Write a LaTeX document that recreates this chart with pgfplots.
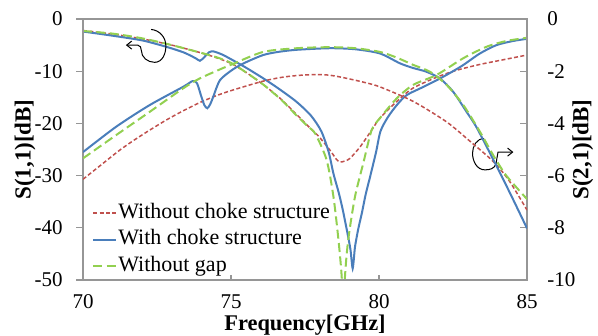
\documentclass[border=0pt]{standalone}
\usepackage{fontspec}
\setmainfont{Liberation Serif}
\usepackage{pgfplots}
\pgfplotsset{compat=1.18}
\usetikzlibrary{arrows.meta}
\definecolor{cred}{RGB}{192,80,77}
\definecolor{cblue}{RGB}{74,126,187}
\definecolor{cgreen}{RGB}{146,208,80}
\definecolor{cframe}{RGB}{150,150,150}
\begin{document}
\begin{tikzpicture}
\pgfplotsset{
  common/.style={scale only axis, width=222pt, height=130.5pt, xmin=70, xmax=85,
    axis line style={cframe, line width=0.6pt},
    /pgf/number format/assume math mode=true,
    tick label style={font=\fontsize{10.5}{12}\selectfont},
  },
  redl/.style={cred, line width=0.75pt, dash pattern=on 2pt off 1.2pt, smooth, tension=0.45},
  bluel/.style={cblue, line width=1pt, smooth, tension=0.45},
  greenl/.style={cgreen, line width=1pt, dash pattern=on 4.5pt off 2.2pt, smooth, tension=0.45},
}
\begin{axis}[common, name=main, ymin=-50, ymax=0, ytick={-50,-40,...,0}, xtick={70,75,80,85},
  tick align=outside, xtick pos=bottom, ytick pos=left, xtick style={draw=none},
  ytick style={cframe, line width=0.6pt}, major tick length=3.5pt,
  yticklabel style={anchor=east, inner sep=0pt, xshift=-6.5pt},
  xticklabel style={anchor=north, inner sep=0pt, yshift=-3.5pt},
  every axis y label/.style={at={(axis description cs:-0.1306,0.5)}, rotate=90, anchor=center,
    font=\fontsize{11.5}{13}\selectfont\bfseries},
  every axis x label/.style={at={(axis description cs:0.5,-0.172)}, anchor=center,
    font=\fontsize{11.2}{13}\selectfont\bfseries},
  ylabel={S(1,1)[dB]}, xlabel={Frequency[GHz]},
  legend cell align=left,
  legend image code/.code={\draw[#1] (0pt,0pt) -- (11.5pt,0pt);},
  legend style={draw=none, fill=none, at={(axis description cs:0.02,0.30)}, anchor=north west,
    inner sep=0pt, row sep=2.25pt, column sep=0pt,
    nodes={inner sep=0.5pt, text height=7.5pt, text depth=2.5pt},
    font=\fontsize{11}{13}\selectfont},
]
% S11 curves (left axis)
\addplot[redl] coordinates {
(70,-2.2) (71,-2.9) (72,-3.8) (73,-5.0) (74,-6.5) (74.5,-7.4) (75,-8.5) (75.5,-10.2)
(76.1,-12.6) (76.7,-15.4) (77.2,-18.2) (77.6,-20.5) (77.95,-22.4) (78.34,-25.1) (78.55,-26.8)
(78.68,-27.4) (78.85,-27.2) (79.02,-26.7) (79.36,-24.5) (79.75,-21.3) (80.03,-19.0)
(80.6,-15.8) (81.16,-13.2) (82.06,-10.9) (82.7,-9.7) (83.41,-8.7) (84.2,-7.8) (85,-6.9)};
\addlegendentry{Without choke structure}
\addplot[bluel] coordinates {
(70,-2.4) (71,-3.2) (72,-4.1) (72.8,-5.3) (73.4,-6.4) (73.8,-7.5) (73.95,-8.0) (74.1,-7.3)
(74.25,-6.4) (74.4,-6.2) (74.7,-6.8) (75,-7.7) (75.5,-9.3) (76.1,-11.4) (76.6,-13.3)
(77.2,-15.8) (77.7,-18.5) (78.05,-21.5) (78.3,-25.5) (78.46,-29.6) (78.65,-33.5) (78.8,-37.2)
(79.02,-43.6) (79.07,-46) (79.11,-47.8) (79.15,-46) (79.19,-43.6) (79.3,-40.2) (79.42,-37.2)
(79.55,-33.6) (79.7,-30.2) (79.9,-25.5) (80.05,-21.5) (80.3,-18.8) (80.6,-16.5) (80.93,-14.6)
(81.5,-13.0) (82.06,-11.4) (82.5,-10.0) (82.85,-8.8) (83.41,-6.6) (83.97,-5.0) (84.54,-4.2) (85,-3.8)};
\addlegendentry{With choke structure}
\addplot[greenl] coordinates {
(70,-2.3) (71,-2.8) (72,-3.7) (73,-5.0) (74,-6.5) (74.5,-7.3) (75,-8.4) (75.5,-10.2)
(76.1,-12.6) (76.7,-15.5) (77.2,-18.4) (77.6,-20.6) (77.85,-22.0) (78.23,-27.0) (78.46,-34.0)
(78.63,-42.3) (78.74,-49.4) (78.8,-58) (78.85,-49.4) (78.96,-42.3) (79.19,-34.0) (79.47,-27.6)
(79.75,-21.3) (80.03,-19.0) (80.6,-15.2) (81.16,-12.6) (81.95,-10.7) (82.85,-7.5) (83.64,-5.3)
(84.31,-4.2) (85,-3.6)};
\addlegendentry{Without gap}
% annotations
\draw[black, line width=0.5pt, -{Straight Barb[length=2.5pt,width=4pt]}]
  (axis cs:72.3,-2.0) to[out=-5,in=90] (axis cs:72.8,-5.2) to[out=-90,in=0] (axis cs:72.42,-8.3)
  to[out=180,in=-90] (axis cs:71.97,-6.0) to[out=90,in=0] (axis cs:71.85,-5.0) -- (axis cs:71.45,-5.0);
\draw[black, line width=0.5pt, -{Straight Barb[length=2.5pt,width=4pt]}]
  (axis cs:83.55,-22.9) to[out=180,in=90] (axis cs:83.16,-25.7) to[out=-90,in=180] (axis cs:83.58,-28.9)
  to[out=0,in=-110] (axis cs:83.95,-27.8) -- (axis cs:84.02,-25.5) -- (axis cs:84.54,-25.5);
\end{axis}
\begin{axis}[common, ymin=-10, ymax=0, ytick={-10,-8,...,0}, xtick={75,80}, xticklabels={},
  tick align=inside, xtick pos=bottom, ytick pos=right, yticklabel pos=right,
  ytick style={cframe, line width=0.6pt, /pgfplots/major tick length=3.5pt},
  xtick style={cframe, line width=0.6pt, /pgfplots/major tick length=2.5pt},
  yticklabel style={anchor=west, inner sep=0pt, xshift=10pt},
  every axis y label/.style={at={(axis description cs:1.126,0.5)}, rotate=90, anchor=center,
    font=\fontsize{11.5}{13}\selectfont\bfseries},
  ylabel={S(2,1)[dB]},
]
% S21 curves (right axis)
\addplot[redl] coordinates {
(70,-6.14) (70.6,-5.60) (71.2,-5.06) (71.7,-4.66) (72.25,-4.26) (72.83,-3.86) (73.38,-3.52)
(73.95,-3.20) (74.5,-2.94) (75.07,-2.72) (76.09,-2.38) (76.8,-2.22) (77.55,-2.14) (78.2,-2.14)
(78.68,-2.22) (79.4,-2.40) (80.03,-2.60) (81.16,-3.16) (82.28,-3.94) (83.07,-4.68) (83.86,-5.46)
(84.4,-6.20) (85,-7.32)};
\addplot[bluel] coordinates {
(70,-5.10) (71.13,-4.12) (72.25,-3.30) (73.38,-2.60) (73.7,-2.38) (73.85,-2.46) (74.0,-2.98)
(74.1,-3.30) (74.2,-3.42) (74.3,-3.26) (74.4,-2.98) (74.63,-2.34) (75.08,-1.92) (75.5,-1.66)
(76.09,-1.38) (76.6,-1.26) (77.22,-1.18) (78.34,-1.12) (79.2,-1.16) (80.03,-1.32) (80.71,-1.70)
(81.16,-1.88) (81.6,-2.02) (82.06,-2.28) (82.5,-2.78) (82.96,-3.56) (83.3,-4.16) (83.92,-5.52)
(84.43,-6.68) (85,-8.02)};
\addplot[greenl] coordinates {
(70,-5.34) (71.13,-4.44) (72.25,-3.56) (73.38,-2.66) (73.94,-2.28) (74.73,-1.88) (75.07,-1.72)
(76.09,-1.26) (77.22,-1.12) (78.34,-1.08) (79.2,-1.12) (80.03,-1.26) (80.6,-1.48) (81.16,-1.76)
(81.72,-2.02) (82.28,-2.52) (82.85,-3.30) (83.41,-4.32) (83.86,-5.22) (84.3,-6.00) (85,-6.90)};
\end{axis}
\pgfresetboundingbox
\path[use as bounding box] ([shift={(-41.5pt,-28pt)}]main.south west) rectangle ([shift={(257.5pt,140pt)}]main.south west);
\end{tikzpicture}
\end{document}
